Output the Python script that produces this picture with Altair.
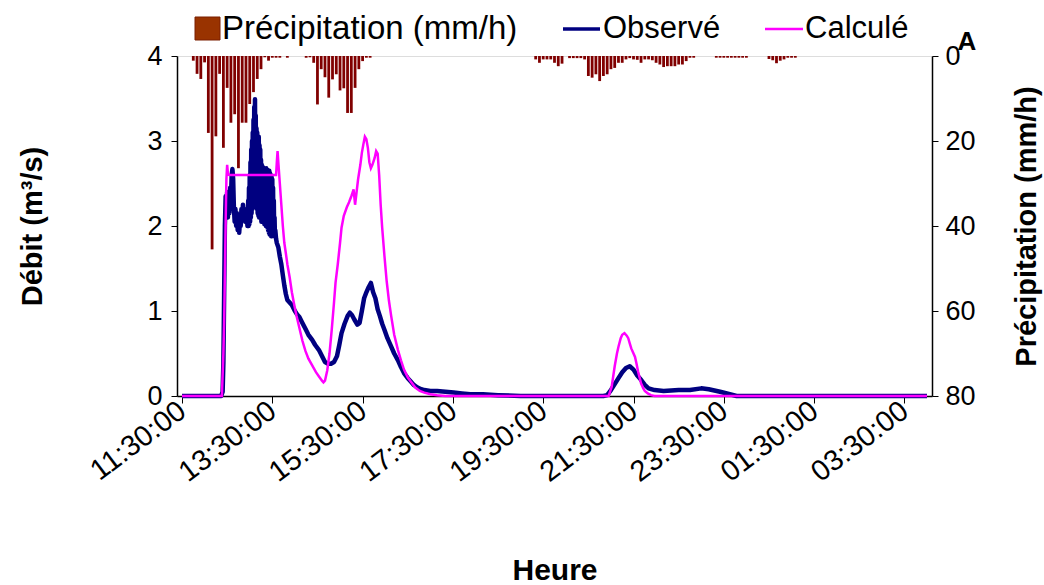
import altair as alt
import pandas as pd

FONT = "Liberation Sans"

# ---- Précipitation (mm/h), pas de 5 minutes, par épisode ----
precip_starts = ["11:45", "14:15", "19:20"]
precip_ep1 = [1.1, 4.2, 5.4, 1.5, 18.1, 45.5, 18.9, 4.2, 21.6, 7.5, 15.7, 13.7, 26.4,
              15.7, 15.7, 11.3, 8.5, 5.4, 3.1, 0.3, 1.1, 0.4, 0.4, 0.4, 0.0, 0.4]
precip_ep2 = [0.4, 0.3, 1.6, 11.4, 3.1, 5.0, 9.8, 5.5, 4.3, 8.1, 7.6, 13.4, 13.4, 7.5,
              3.1, 1.2, 0.4, 0.4]
precip_ep3 = [0.8, 1.6, 0.8, 0.8, 0.8, 1.6, 2.4, 1.8, 0.0, 0.5, 0.5, 0.5, 0.5, 0.8,
              4.7, 5.1, 4.3, 5.9, 4.7, 4.3, 3.1, 2.8, 1.6, 1.6, 0.8, 0.5, 0.8, 0.9,
              1.6, 0.8, 0.8, 1.0, 1.6, 2.0, 2.6, 2.4, 2.4, 2.4, 2.0, 2.0, 1.2, 0.4,
              0.4, 0.0, 0.0, 0.0, 0.0, 0.0, 0.4, 0.4, 0.4, 0.4, 0.4, 0.4, 0.4, 0.4,
              0.4, 0.0, 0.0, 0.0, 0.0, 0.0, 0.7, 1.0, 1.7, 1.1, 0.8, 0.4, 0.4, 0.4]
precip_episodes = [precip_ep1, precip_ep2, precip_ep3]

# ---- Débit observé (m3/s): (heure, valeur) ----
obs_rise = [("11:30", 0.00), ("12:22", 0.00), ("12:24", 0.05), ("12:25", 0.40), ("12:26", 1.20),
            ("12:27", 2.00), ("12:28", 2.35), ("12:29", 2.20), ("12:30", 2.40), ("12:31", 2.10),
            ("12:32", 2.30), ("12:33", 2.15), ("12:34", 2.45), ("12:35", 2.30), ("12:36", 2.60),
            ("12:37", 2.67), ("12:38", 2.55), ("12:39", 2.20), ("12:40", 2.05), ("12:41", 2.20),
            ("12:42", 2.00), ("12:43", 2.15), ("12:44", 1.95), ("12:45", 2.10), ("12:46", 1.92),
            ("12:47", 2.05), ("12:48", 2.00), ("12:49", 2.20), ("12:50", 2.10), ("12:51", 2.25),
            ("12:52", 2.12), ("12:53", 2.20), ("12:54", 2.05), ("12:55", 2.15), ("12:56", 2.12),
            ("12:57", 2.00)]
obs_peak = [("12:58:00", 2.30), ("12:58:30", 2.00), ("12:59:00", 2.45), ("12:59:30", 2.02),
            ("13:00:00", 2.60), ("13:00:30", 2.05), ("13:01:00", 2.75), ("13:01:30", 2.10),
            ("13:02:00", 2.90), ("13:02:30", 2.15), ("13:03:00", 3.00), ("13:03:30", 2.20),
            ("13:04:00", 3.10), ("13:04:30", 2.30), ("13:05:00", 3.25), ("13:05:30", 2.40),
            ("13:06:00", 3.40), ("13:06:30", 2.60), ("13:07:00", 3.49), ("13:07:30", 2.50),
            ("13:08:00", 3.30), ("13:08:30", 2.30), ("13:09:00", 3.15), ("13:09:30", 2.20),
            ("13:10:00", 3.10), ("13:10:30", 2.15), ("13:11:00", 3.05), ("13:11:30", 2.12),
            ("13:12:00", 3.05), ("13:12:30", 2.10), ("13:13:00", 2.95), ("13:13:30", 2.15),
            ("13:14:00", 2.90), ("13:14:30", 2.10), ("13:15:00", 2.78), ("13:15:30", 2.05),
            ("13:16:00", 2.72), ("13:16:30", 2.10), ("13:17:00", 2.70), ("13:17:30", 2.05),
            ("13:18:00", 2.68), ("13:18:30", 2.08), ("13:19:00", 2.66), ("13:19:30", 2.02),
            ("13:20:00", 2.68), ("13:20:30", 2.05), ("13:21:00", 2.66), ("13:21:30", 2.00),
            ("13:22:00", 2.68), ("13:22:30", 2.02), ("13:23:00", 2.65), ("13:23:30", 1.98),
            ("13:24:00", 2.66), ("13:24:30", 1.95), ("13:25:00", 2.64), ("13:25:30", 1.92),
            ("13:26:00", 2.65), ("13:26:30", 1.90), ("13:27:00", 2.62), ("13:27:30", 1.92),
            ("13:28:00", 2.60), ("13:28:30", 1.88), ("13:29:00", 2.58), ("13:29:30", 1.88),
            ("13:30:00", 2.55), ("13:30:30", 1.90), ("13:31:00", 2.45), ("13:31:30", 1.90),
            ("13:32:00", 2.30), ("13:32:30", 1.92), ("13:33:00", 2.10), ("13:33:30", 1.88),
            ("13:34:00", 1.95)]
obs_recess = [("13:35", 1.85), ("13:36", 1.80), ("13:38", 1.75), ("13:40", 1.64), ("13:42", 1.55),
              ("13:44", 1.42), ("13:46", 1.30), ("13:48", 1.20), ("13:50", 1.13), ("13:53", 1.10),
              ("13:56", 1.07), ("14:00", 1.00), ("14:03", 0.96), ("14:06", 0.93), ("14:10", 0.86),
              ("14:14", 0.79), ("14:18", 0.72), ("14:23", 0.66), ("14:27", 0.60), ("14:32", 0.54),
              ("14:36", 0.47), ("14:40", 0.40), ("14:44", 0.38), ("14:48", 0.38), ("14:52", 0.40),
              ("14:56", 0.47), ("14:59", 0.60), ("15:02", 0.74), ("15:06", 0.85), ("15:10", 0.94),
              ("15:13", 0.98), ("15:16", 0.95), ("15:19", 0.90), ("15:23", 0.84), ("15:26", 0.86),
              ("15:29", 1.00), ("15:32", 1.15), ("15:35", 1.22), ("15:38", 1.28), ("15:41", 1.33),
              ("15:44", 1.22), ("15:47", 1.15), ("15:50", 1.02), ("15:53", 0.94), ("15:56", 0.85),
              ("15:59", 0.78), ("16:03", 0.68), ("16:08", 0.58), ("16:12", 0.50), ("16:17", 0.42),
              ("16:21", 0.34), ("16:25", 0.27), ("16:30", 0.21), ("16:34", 0.17), ("16:38", 0.13),
              ("16:43", 0.10), ("16:48", 0.08), ("16:52", 0.07), ("17:00", 0.06), ("17:09", 0.06),
              ("17:20", 0.05), ("17:31", 0.04), ("17:42", 0.03), ("17:53", 0.02), ("18:10", 0.02),
              ("18:30", 0.01), ("19:00", 0.00)]
obs_night = [("20:50", 0.00), ("20:55", 0.01), ("21:00", 0.07), ("21:05", 0.14), ("21:10", 0.21),
             ("21:15", 0.28), ("21:20", 0.33), ("21:25", 0.35), ("21:30", 0.31), ("21:35", 0.24),
             ("21:40", 0.19), ("21:45", 0.13), ("21:50", 0.09), ("21:58", 0.07), ("22:10", 0.06),
             ("22:30", 0.07), ("22:45", 0.07), ("23:00", 0.09), ("23:10", 0.08), ("23:25", 0.05),
             ("23:38", 0.02), ("23:47", 0.00), ("04:00", 0.00)]

# ---- Débit calculé (m3/s): (heure, valeur) ----
calc_ep1 = [("11:30", 0.00), ("12:23", 0.00), ("12:25", 0.50), ("12:26", 0.86), ("12:28", 2.04),
            ("12:29", 2.55), ("12:30", 2.72), ("12:31", 2.62), ("12:33", 2.60), ("13:35", 2.60),
            ("13:36", 2.75), ("13:37", 2.88), ("13:38", 2.75), ("13:40", 2.50), ("13:42", 2.25),
            ("13:44", 2.00), ("13:46", 1.80), ("13:48", 1.68), ("13:50", 1.55), ("13:53", 1.40),
            ("13:56", 1.22), ("13:59", 1.08), ("14:02", 0.95), ("14:06", 0.80), ("14:10", 0.65),
            ("14:14", 0.53), ("14:18", 0.44), ("14:23", 0.36), ("14:28", 0.28), ("14:32", 0.23),
            ("14:36", 0.18), ("14:38", 0.16), ("14:40", 0.18), ("14:43", 0.30), ("14:46", 0.50),
            ("14:49", 0.78), ("14:52", 1.10), ("14:54", 1.33), ("14:57", 1.55), ("15:00", 1.80),
            ("15:02", 1.98), ("15:05", 2.12), ("15:09", 2.22), ("15:12", 2.28), ("15:15", 2.35),
            ("15:17", 2.40), ("15:18", 2.43), ("15:20", 2.25), ("15:22", 2.40), ("15:24", 2.55),
            ("15:27", 2.72), ("15:29", 2.86), ("15:31", 2.96), ("15:33", 3.05), ("15:35", 3.02),
            ("15:37", 2.92), ("15:39", 2.75), ("15:41", 2.68), ("15:43", 2.72), ("15:46", 2.80),
            ("15:48", 2.88), ("15:50", 2.85), ("15:52", 2.60), ("15:54", 2.25), ("15:56", 1.98),
            ("15:59", 1.65), ("16:02", 1.35), ("16:05", 1.12), ("16:08", 0.94), ("16:12", 0.72),
            ("16:17", 0.54), ("16:21", 0.42), ("16:25", 0.31), ("16:30", 0.22), ("16:34", 0.17),
            ("16:40", 0.10), ("16:46", 0.06), ("16:52", 0.04), ("17:00", 0.02), ("17:09", 0.01),
            ("17:20", 0.00)]
calc_ep2 = [("20:57", 0.00), ("21:01", 0.11), ("21:05", 0.35), ("21:08", 0.50), ("21:10", 0.58),
            ("21:13", 0.68), ("21:15", 0.72), ("21:18", 0.74), ("21:21", 0.71), ("21:23", 0.68),
            ("21:25", 0.62), ("21:27", 0.56), ("21:30", 0.50), ("21:32", 0.46), ("21:34", 0.38),
            ("21:36", 0.29), ("21:38", 0.22), ("21:40", 0.15), ("21:43", 0.09), ("21:45", 0.06),
            ("21:49", 0.03), ("21:53", 0.01), ("21:58", 0.00), ("04:00", 0.00)]

x_tick_values = [11.5, 13.5, 15.5, 17.5, 19.5, 21.5, 23.5, 25.5, 27.5]
debit_ticks = [0, 1, 2, 3, 4]
precip_ticks = [0, 20, 40, 60, 80]


def to_hours(s):
    parts = [int(p) for p in s.split(":")]
    v = parts[0] + parts[1] / 60.0 + (parts[2] / 3600.0 if len(parts) > 2 else 0.0)
    return v + 24 if v < 11 else v


rows = []
for start, vals in zip(precip_starts, precip_episodes):
    t0 = to_hours(start)
    for i, v in enumerate(vals):
        rows.append({"t": t0 + i * 5 / 60.0, "p": v})
precip_df = pd.DataFrame(rows)
obs_pts = obs_rise + obs_peak + obs_recess + obs_night
calc_pts = calc_ep1 + calc_ep2
obs_df = pd.DataFrame({"t": [to_hours(a) for a, _ in obs_pts], "v": [b for _, b in obs_pts]})
calc_df = pd.DataFrame({"t": [to_hours(a) for a, _ in calc_pts], "v": [b for _, b in calc_pts]})

# plot area in page pixels
L, T, R, B = 177, 56, 932, 396
W, H = R - L, B - T

x_scale = alt.Scale(domain=[11.5, 28.0], nice=False, zero=False)
x_axis = alt.Axis(
    values=x_tick_values,
    labelExpr="(floor(datum.value) % 24 < 10 ? '0' : '') + (floor(datum.value) % 24) + ':30:00'",
    labelAngle=323, labelAlign="right", labelBaseline="middle", labelFontSize=29,
    labelPadding=4, labelOverlap=False, labelBound=False, tickSize=7, title="Heure",
    titleFontSize=30, titleFontWeight="bold", titleY=183, titleBaseline="alphabetic",
    grid=False, domainColor="black", tickColor="black", domainWidth=1.5,
    labelColor="black", titleColor="black", labelFont=FONT, titleFont=FONT,
)
left_axis = alt.Axis(
    values=debit_ticks, orient="left", labelFontSize=27, tickSize=6, labelPadding=9,
    title="Débit (m³/s)", titleFontSize=29, titleFontWeight="bold", titleAngle=270,
    titleX=-145, titleY=H / 2, titleBaseline="middle", grid=False, domainColor="black",
    tickColor="black", domainWidth=1.5, labelColor="black", titleColor="black",
    labelFont=FONT, titleFont=FONT,
)
right_axis = alt.Axis(
    values=precip_ticks, orient="right", labelFontSize=27, tickSize=6, labelPadding=7,
    title="Précipitation (mm/h)", titleFontSize=29, titleFontWeight="bold", titleAngle=270,
    titleX=94, titleY=H / 2, titleBaseline="middle", grid=False, domainColor="black",
    tickColor="black", domainWidth=1.5, labelColor="black", titleColor="black",
    labelFont=FONT, titleFont=FONT,
)

bars = alt.Chart(precip_df).mark_bar(size=2.8, color="#800000").encode(
    x=alt.X("t:Q", scale=x_scale, axis=x_axis),
    y=alt.Y("p:Q", scale=alt.Scale(domain=[0, 80], reverse=True, nice=False), axis=right_axis),
)

obs = alt.Chart(obs_df).mark_line(color="#000080", strokeWidth=4.5, strokeJoin="round").encode(
    x=alt.X("t:Q", scale=x_scale, axis=x_axis),
    y=alt.Y("v:Q", scale=alt.Scale(domain=[0, 4], nice=False), axis=left_axis),
)
calc = alt.Chart(calc_df).mark_line(color="#FF00FF", strokeWidth=2.5).encode(
    x=alt.X("t:Q", scale=x_scale, axis=x_axis),
    y=alt.Y("v:Q", scale=alt.Scale(domain=[0, 4], nice=False), axis=left_axis),
)
lines = alt.layer(obs, calc)

one = pd.DataFrame({"k": [0]})
leg_box = alt.Chart(one).mark_rect(color="#993300", stroke="#7a1f00", strokeWidth=1).encode(
    x=alt.value(195 - L), x2=alt.value(220 - L), y=alt.value(17 - T), y2=alt.value(40 - T))
leg_t1 = alt.Chart(one).mark_text(text="Précipitation (mm/h)", align="left", baseline="middle",
                                  font=FONT, fontSize=33, color="black").encode(
    x=alt.value(222 - L), y=alt.value(29 - T))
leg_l2 = alt.Chart(one).mark_rule(color="#000080", strokeWidth=3.5).encode(
    x=alt.value(563 - L), x2=alt.value(600 - L), y=alt.value(29 - T))
leg_t2 = alt.Chart(one).mark_text(text="Observé", align="left", baseline="middle",
                                  font=FONT, fontSize=31, color="black").encode(
    x=alt.value(603 - L), y=alt.value(29 - T))
leg_l3 = alt.Chart(one).mark_rule(color="#FF00FF", strokeWidth=2.5).encode(
    x=alt.value(765 - L), x2=alt.value(803 - L), y=alt.value(29 - T))
leg_t3 = alt.Chart(one).mark_text(text="Calculé", align="left", baseline="middle",
                                  font=FONT, fontSize=31, color="black").encode(
    x=alt.value(805 - L), y=alt.value(29 - T))
panel_a = alt.Chart(one).mark_text(text="A", align="center", baseline="middle",
                                   font=FONT, fontSize=26, fontWeight="bold", color="black").encode(
    x=alt.value(967 - L), y=alt.value(42 - T))

chart = alt.layer(
    bars, lines, leg_box, leg_t1, leg_l2, leg_t2, leg_l3, leg_t3, panel_a
).resolve_scale(y="independent").properties(
    width=W, height=H,
    autosize=alt.AutoSizeParams(type="none"),
    padding={"left": L, "top": T, "right": 1044 - R, "bottom": 585 - B},
    background="white",
).configure_view(stroke="#888888", strokeWidth=1.5).configure(font=FONT)

chart.save("out.html", embed_options={"renderer": "svg", "actions": False})
